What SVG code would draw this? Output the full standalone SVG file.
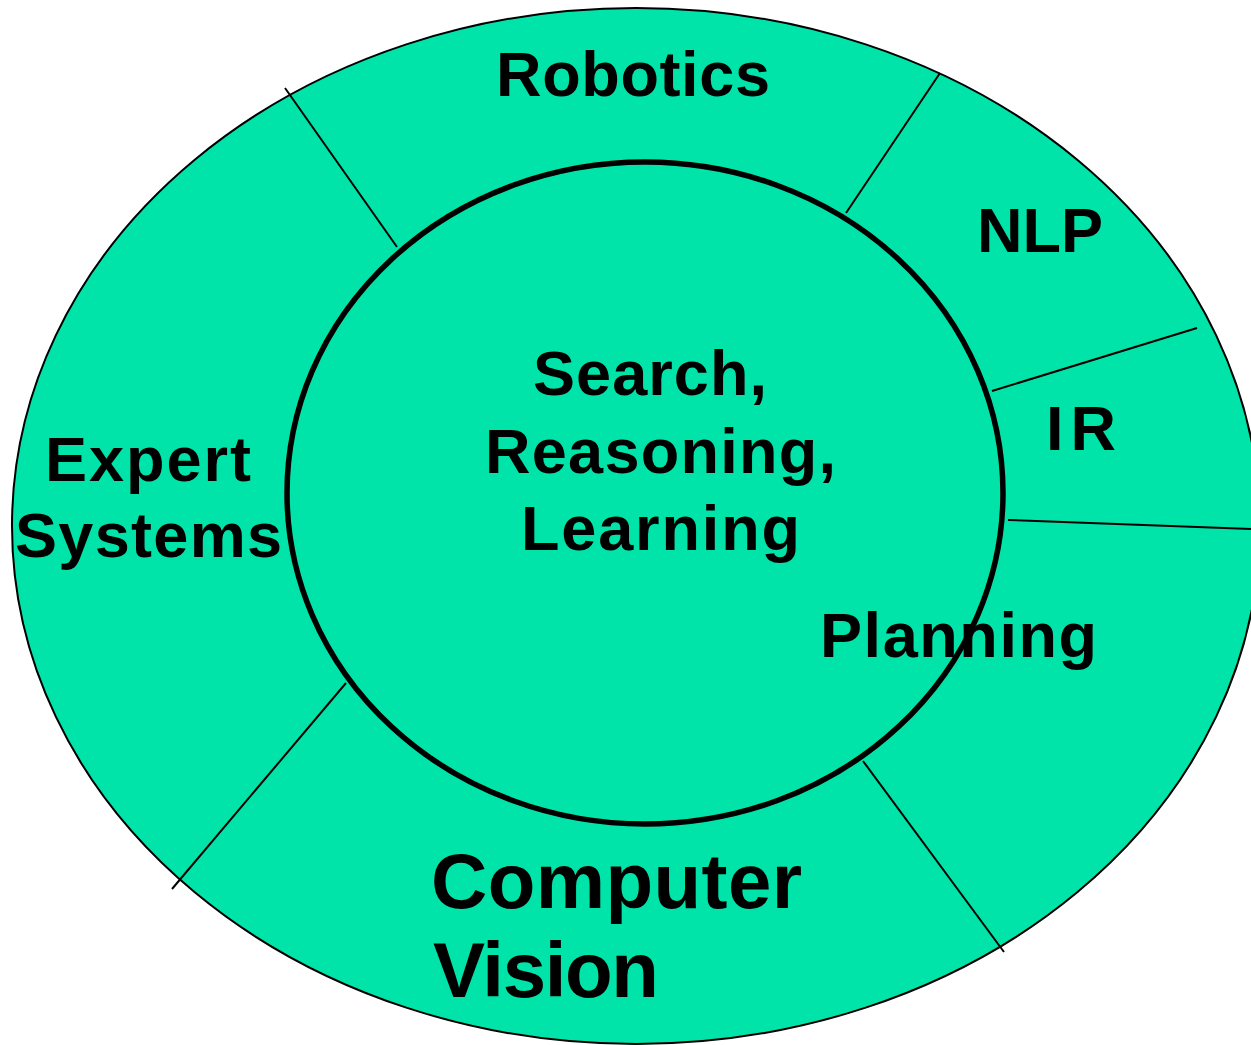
<svg xmlns="http://www.w3.org/2000/svg" width="1251" height="1045" viewBox="0 0 1251 1045">
  <style>
    .ring { fill: #00E4A9; stroke: #000; stroke-width: 2; }
    .core { fill: none; stroke: #000; stroke-width: 5.5; }
    .div { stroke: #000; stroke-width: 2; fill: none; }
    .lbl { font-family: "Liberation Sans", Arial, Helvetica, sans-serif; font-weight: bold; font-size: 63px; fill: #000; }
    .big { font-size: 78px; }
  </style>
  <rect width="1251" height="1045" fill="#fff"/>

  <!-- outer ring of application areas -->
  <g id="outer-ring">
    <ellipse class="ring" cx="636" cy="526" rx="624" ry="518"/>
  </g>

  <!-- dividers between the areas -->
  <g id="connectors">
    <line class="div" x1="285" y1="88" x2="397" y2="247"/>
    <line class="div" x1="940" y1="73" x2="846" y2="213"/>
    <line class="div" x1="1197" y1="328" x2="992" y2="391"/>
    <line class="div" x1="1008" y1="520" x2="1251" y2="529"/>
    <line class="div" x1="863" y1="761" x2="1004" y2="952"/>
    <line class="div" x1="346" y1="683" x2="172" y2="889"/>
  </g>

  <g id="robotics">
    <text class="lbl" x="496" y="96" textLength="274" lengthAdjust="spacing">Robotics</text>
  </g>
  <g id="nlp">
    <text class="lbl" x="977" y="252" textLength="126" lengthAdjust="spacing">NLP</text>
  </g>
  <g id="ir">
    <text class="lbl" x="1046" y="450" textLength="70" lengthAdjust="spacing">IR</text>
  </g>
  <g id="expert-systems">
    <text class="lbl" x="45" y="481" textLength="206" lengthAdjust="spacing">Expert</text>
    <text class="lbl" x="15" y="557" textLength="267" lengthAdjust="spacing">Systems</text>
  </g>
  <g id="planning">
    <text class="lbl" x="820" y="657" textLength="277" lengthAdjust="spacing">Planning</text>
  </g>
  <g id="computer-vision">
    <text class="lbl big" x="431" y="908" textLength="371" lengthAdjust="spacing">Computer</text>
    <text class="lbl big" x="433" y="997" textLength="226" lengthAdjust="spacing">Vision</text>
  </g>

  <!-- core techniques -->
  <g id="core">
    <ellipse class="core" cx="645" cy="493" rx="358" ry="331"/>
    <text class="lbl" x="533" y="395" textLength="234" lengthAdjust="spacing">Search,</text>
    <text class="lbl" x="485" y="473" textLength="351" lengthAdjust="spacing">Reasoning,</text>
    <text class="lbl" x="521" y="550" textLength="279" lengthAdjust="spacing">Learning</text>
  </g>
</svg>
